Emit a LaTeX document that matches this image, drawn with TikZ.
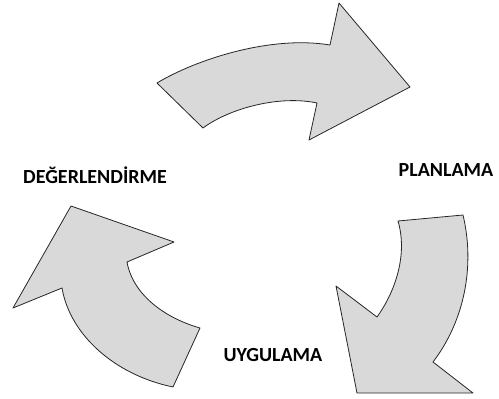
\documentclass[tikz,border=0pt]{standalone}
\usepackage{fontspec}
\setmainfont{Carlito}
\begin{document}
\begin{tikzpicture}[x=1pt,y=-1pt,
    block/.style={draw=black!85,fill=black!15,line width=0.8pt,line join=round},
    phase/.style={font=\fontsize{20}{24}\selectfont\bfseries}]
      \useasboundingbox (0,0) rectangle (499,399);
      % top arrow
      \draw[block] (157,83) .. controls (195,60) and (270,35) .. (330,45)
        -- (339,3) -- (410,87) -- (309,140) -- (317,103)
        .. controls (280,95) and (230,108) .. (203,128) -- cycle;
      % right arrow
      \draw[block] (398,221) -- (463,215)
        .. controls (475,265) and (465,320) .. (433,362)
        -- (473,393) -- (357,393) -- (336,286) -- (377,317)
        .. controls (395,292) and (408,255) .. (398,221) -- cycle;
      % left arrow
      \draw[block] (173,387) -- (200,328)
        .. controls (165,318) and (133,295) .. (127,262)
        -- (174,242) -- (71,206) -- (13,308) -- (62,288)
        .. controls (70,335) and (115,375) .. (173,387) -- cycle;
      \draw
        (95,175) node[phase] (deg){DEĞERLENDİRME}
        (446,170) node[phase] (plan){PLANLAMA}
        (273,355) node[phase] (uyg){UYGULAMA};
    \end{tikzpicture}
\end{document}
